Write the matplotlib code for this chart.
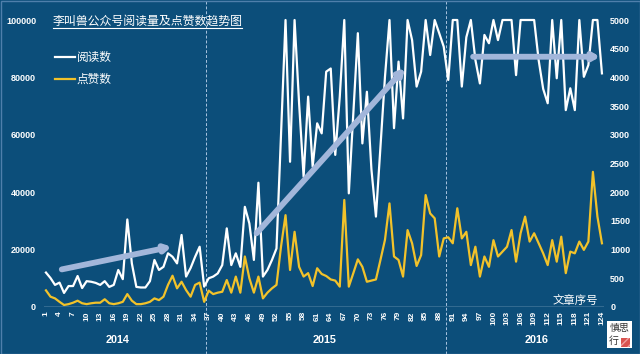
"""
Reads and likes per article for the 李叫兽 WeChat account, 2014-2016.

Dual-axis line chart: reads (left axis, capped at 100000) and likes
(right axis), with year groups and hand-drawn trend arrows.

Usage:
    python plot.py
"""

import matplotlib
matplotlib.use("Agg")
import matplotlib.pyplot as plt
import matplotlib.transforms as mtransforms
from matplotlib.lines import Line2D
from matplotlib.patches import Rectangle

# ── Data ──────────────────────────────────────────────────────────────────────
article_no = list(range(1, 125))

reads = [
    12000, 10100, 7700, 8500, 4900, 7300, 7300, 10800, 6600, 9000,
    8800, 8400, 7700, 9000, 7000, 7700, 12900, 9700, 30500, 15200,
    7000, 6800, 6800, 9000, 16400, 12900, 14000, 18700, 17500, 15200,
    25100, 10600, 13600, 17500, 21000, 7100, 10000, 10600, 11700, 14600,
    27400, 14600, 18700, 14000, 34900, 29100, 16400, 43300, 10600, 12900,
    16400, 20400, 60000, 100000, 50600, 100000, 71000, 45400, 73300, 48900,
    64000, 60500, 82000, 83100, 53000, 73300, 100000, 39600, 67500, 95400,
    57000, 75000, 48000, 31500, 55800, 80200, 100000, 62300, 85500, 65700,
    100000, 93000, 76800, 82000, 100000, 87800, 100000, 95400, 90700, 79100,
    100000, 100000, 76800, 94000, 100000, 86100, 77900, 94800, 91900, 100000,
    93000, 100000, 100000, 100000, 80800, 100000, 100000, 100000, 100000, 86000,
    76000, 71000, 100000, 79700, 100000, 68600, 76200, 68600, 100000, 80200,
    84300, 100000, 100000, 81400,
]

likes = [
    290, 180, 150, 90, 35, 50, 75, 110, 65, 50,
    65, 75, 75, 135, 65, 50, 65, 90, 225, 110,
    50, 50, 65, 90, 150, 120, 180, 385, 545, 325,
    440, 295, 180, 385, 425, 90, 285, 225, 250, 265,
    470, 250, 530, 250, 880, 500, 250, 530, 150, 250,
    325, 385, 1050, 1600, 645, 1310, 700, 530, 590, 365,
    675, 575, 540, 480, 460, 355, 1865, 355, 590, 830,
    700, 440, 460, 480, 820, 1170, 1805, 880, 820, 530,
    1340, 1110, 715, 905, 1950, 1630, 1545, 880, 1195, 1215,
    1110, 1720, 1195, 1310, 730, 1050, 530, 880, 700, 1165,
    880, 965, 1050, 1340, 790, 1285, 1575, 1140, 1285, 1110,
    935, 730, 1165, 790, 1225, 590, 965, 935, 1140, 995,
    1140, 2355, 1575, 1110,
]

years = ["2014", "2015", "2016"]
year_bounds = [36.5, 89.5]          # article numbers between the years
year_label_x = [16.9, 62.7, 109.6]

# trend arrows: (start article, start reads) -> (end article, end reads)
arrow_starts = [(4.5, 13100), (47.6, 25700), (95.5, 87200)]
arrow_ends = [(28.8, 21000), (80.4, 83200), (123.6, 87200)]

# ── Style ─────────────────────────────────────────────────────────────────────
BG = "#0c4e7a"
WHITE = "#ffffff"
GOLD = "#f2c22a"
ARROW = "#a2b6da"
SEP = "#a9c4e0"
CJK = ["Noto Sans CJK SC", "DejaVu Sans"]
NUM = "Liberation Sans"

W, H = 640, 354
left_px, right_px, top_px, base_px = 43.7, 604.2, 20, 307
plot_h = base_px - top_px

fig = plt.figure(figsize=(W / 100, H / 100), dpi=100, facecolor=BG)
ax = fig.add_axes([left_px / W, 1 - base_px / H,
                   (right_px - left_px) / W, plot_h / H])
ax2 = ax.twinx()
for a in (ax, ax2):
    a.set_facecolor("none")
    for s in a.spines.values():
        s.set_visible(False)
ax.set_facecolor(BG)

# ── Series ────────────────────────────────────────────────────────────────────
ax.plot(article_no, reads, color=WHITE, lw=1.6, clip_on=False, zorder=3)
ax2.plot(article_no, likes, color=GOLD, lw=1.6, zorder=3)

ax.set_xlim(0.5, 124.5)
ax.set_ylim(0, 100000)
ax2.set_ylim(0, 5000)

ax.set_yticks(range(0, 100001, 20000))
ax.set_yticklabels([str(v) for v in range(0, 100001, 20000)])
ax2.set_yticks(range(0, 5001, 500))
ax2.set_yticklabels([str(v) for v in range(0, 5001, 500)])
ax.set_xticks(article_no[::3])
ax.set_xticklabels([str(v) for v in article_no[::3]], rotation=90)

ax.tick_params(axis="y", length=0, pad=5.5, labelcolor=WHITE, labelsize=6.5)
ax2.tick_params(axis="y", length=0, pad=4.3, labelcolor=WHITE, labelsize=6.5)
ax.tick_params(axis="x", length=0, pad=3, labelcolor=WHITE, labelsize=6)
for lbl in ax.get_xticklabels() + ax.get_yticklabels() + ax2.get_yticklabels():
    lbl.set_fontfamily(NUM)
    lbl.set_fontweight("bold")
for lbl in ax.get_xticklabels():
    lbl.set_verticalalignment("top")

ax.axhline(0, color="#d3e0ee", lw=1, zorder=2)

# ── Year groups ───────────────────────────────────────────────────────────────
for b in year_bounds:
    ax.axvline(b, ymin=-(H - base_px) / plot_h, ymax=1 + top_px / plot_h,
               color=SEP, lw=0.7, ls=(0, (3, 2)), clip_on=False, zorder=1)
blend = mtransforms.blended_transform_factory(ax.transData, ax.transAxes)
for x, yr in zip(year_label_x, years):
    ax.text(x, -(340 - base_px) / plot_h, yr, transform=blend,
            ha="center", va="center", color=WHITE, fontsize=7.8,
            fontweight="bold", family=NUM)

# ── Trend arrows ──────────────────────────────────────────────────────────────
for s, e in zip(arrow_starts, arrow_ends):
    ax2.annotate("", xy=e, xytext=s, xycoords=ax.transData, textcoords=ax.transData,
                 arrowprops=dict(arrowstyle="-|>,head_length=0.35,head_width=0.2",
                                 lw=4.2, color=ARROW, shrinkA=0, shrinkB=0),
                 zorder=5)

# ── Title, legend, axis name ──────────────────────────────────────────────────
fig.text(53 / W, 1 - 21 / H, "李叫兽公众号阅读量及点赞数趋势图", color=WHITE,
         fontsize=8.6, family=CJK, va="center", ha="left")
fig.add_artist(Line2D([53 / W, 242 / W], [1 - 27.5 / H] * 2, color=WHITE, lw=0.8))

for y, c, name in [(57, WHITE, "阅读数"), (79, GOLD, "点赞数")]:
    fig.add_artist(Line2D([55 / W, 75 / W], [1 - y / H] * 2, color=c, lw=1.6))
    fig.text(77 / W, 1 - y / H, name, color=WHITE, fontsize=8.4, family=CJK,
             va="center", ha="left")

ax2.text((598 - left_px) / (right_px - left_px), (base_px - 300) / plot_h,
         "文章序号", transform=ax2.transAxes, ha="right", va="center",
         color=WHITE, fontsize=8.2, family=CJK)

# ── Logo & frame ──────────────────────────────────────────────────────────────
fig.add_artist(Rectangle((607 / W, 1 - 348 / H), 25 / W, 27 / H,
                         transform=fig.transFigure, fc=WHITE, ec="none"))
fig.text(619.5 / W, 1 - 328 / H, "慎思", color="#333333", fontsize=7.2,
         family=CJK, ha="center", va="center")
fig.text(613.5 / W, 1 - 341 / H, "行", color="#333333", fontsize=7.2,
         family=CJK, ha="center", va="center")
fig.add_artist(Rectangle((621 / W, 1 - 346.5 / H), 9 / W, 9 / H,
                         transform=fig.transFigure, fc="#d9534f", ec="#f0a0a0",
                         hatch="////", lw=0))
fig.add_artist(Rectangle((0.5 / W, 0.5 / H), 1 - 1 / W, 1 - 1 / H,
                         transform=fig.transFigure, fill=False, ec="#4f7fab", lw=1))

fig.savefig("out.png", dpi=100, facecolor=BG)
print("saved out.png")
